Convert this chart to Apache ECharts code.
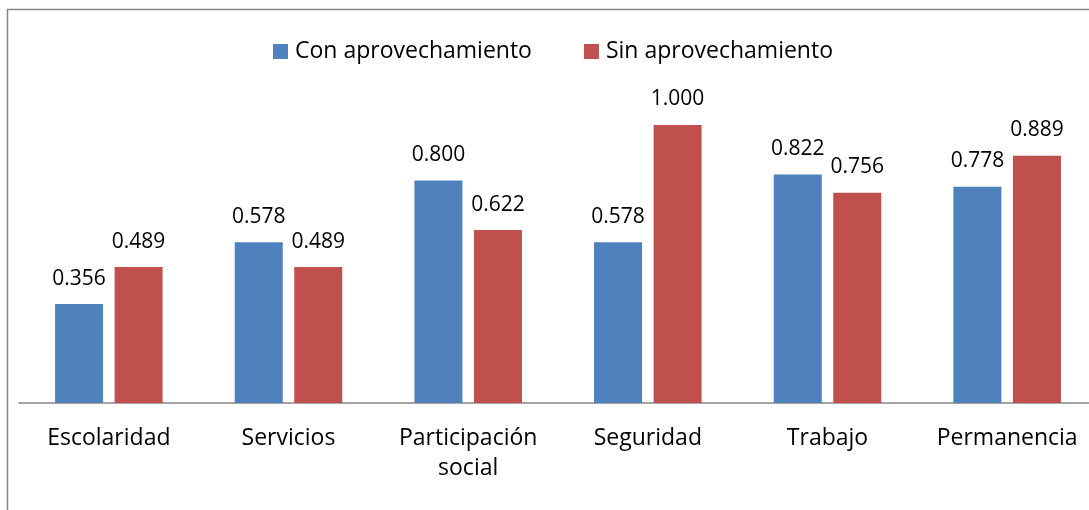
<!DOCTYPE html>
<html>
<head>
<meta charset="utf-8">
<script src="https://cdn.jsdelivr.net/npm/echarts@6/dist/echarts.min.js"></script>
<style>
html,body{margin:0;padding:0;background:#fff;overflow:hidden;}
#chart{width:1110px;height:510px;}
</style>
</head>
<body>
<div id="chart"></div>
<script>
// datos
var categorias = ["Escolaridad", "Servicios", "Participación\nsocial", "Seguridad", "Trabajo", "Permanencia"];
var conAprov = [0.356, 0.578, 0.800, 0.578, 0.822, 0.778];
var sinAprov = [0.489, 0.489, 0.622, 1.000, 0.756, 0.889];
var series_names = ["Con aprovechamiento", "Sin aprovechamiento"];

var fuente = "'Open Sans', 'Noto Sans', sans-serif";
var myChart = echarts.init(document.getElementById("chart"));

function etiqueta(){
	return {
		show: true,
		position: "top",
		distance: 15,
		color: "#000",
		fontSize: 21,
		fontFamily: fuente,
		formatter: function(p){ return p.value.toFixed(3); }
	};
}

myChart.setOption({
	animation: false,
	graphic: [{
		type: "rect",
		shape: {x: 7.5, y: 9.5, width: 1200, height: 600},
		style: {fill: "none", stroke: "#868686", lineWidth: 1.5},
		silent: true
	}],
	legend: {
		left: 268,
		top: 35,
		itemWidth: 15,
		itemHeight: 15,
		itemGap: 52,
		icon: "rect",
		textStyle: {fontSize: 23, color: "#000", fontFamily: fuente, padding: [0, 0, 0, 2]},
		data: series_names
	},
	grid: {left: 19, top: 69.4, width: 1078, height: 333.6},
	xAxis: {
		type: "category",
		data: categorias,
		axisLine: {lineStyle: {color: "#868686", width: 1.5}},
		axisTick: {show: false},
		axisLabel: {
			color: "#000",
			fontSize: 23,
			fontFamily: fuente,
			margin: 20,
			lineHeight: 30,
			interval: 0
		}
	},
	yAxis: {
		type: "value",
		min: 0,
		max: 1.2,
		show: false,
		splitLine: {show: false}
	},
	series: [{
		name: series_names[0],
		type: "bar",
		data: conAprov,
		barWidth: 48,
		barGap: "24%",
		itemStyle: {color: "#4F81BD"},
		label: etiqueta()
	}, {
		name: series_names[1],
		type: "bar",
		data: sinAprov,
		barWidth: 48,
		itemStyle: {color: "#C0504D"},
		label: etiqueta()
	}]
});
</script>
</body>
</html>
